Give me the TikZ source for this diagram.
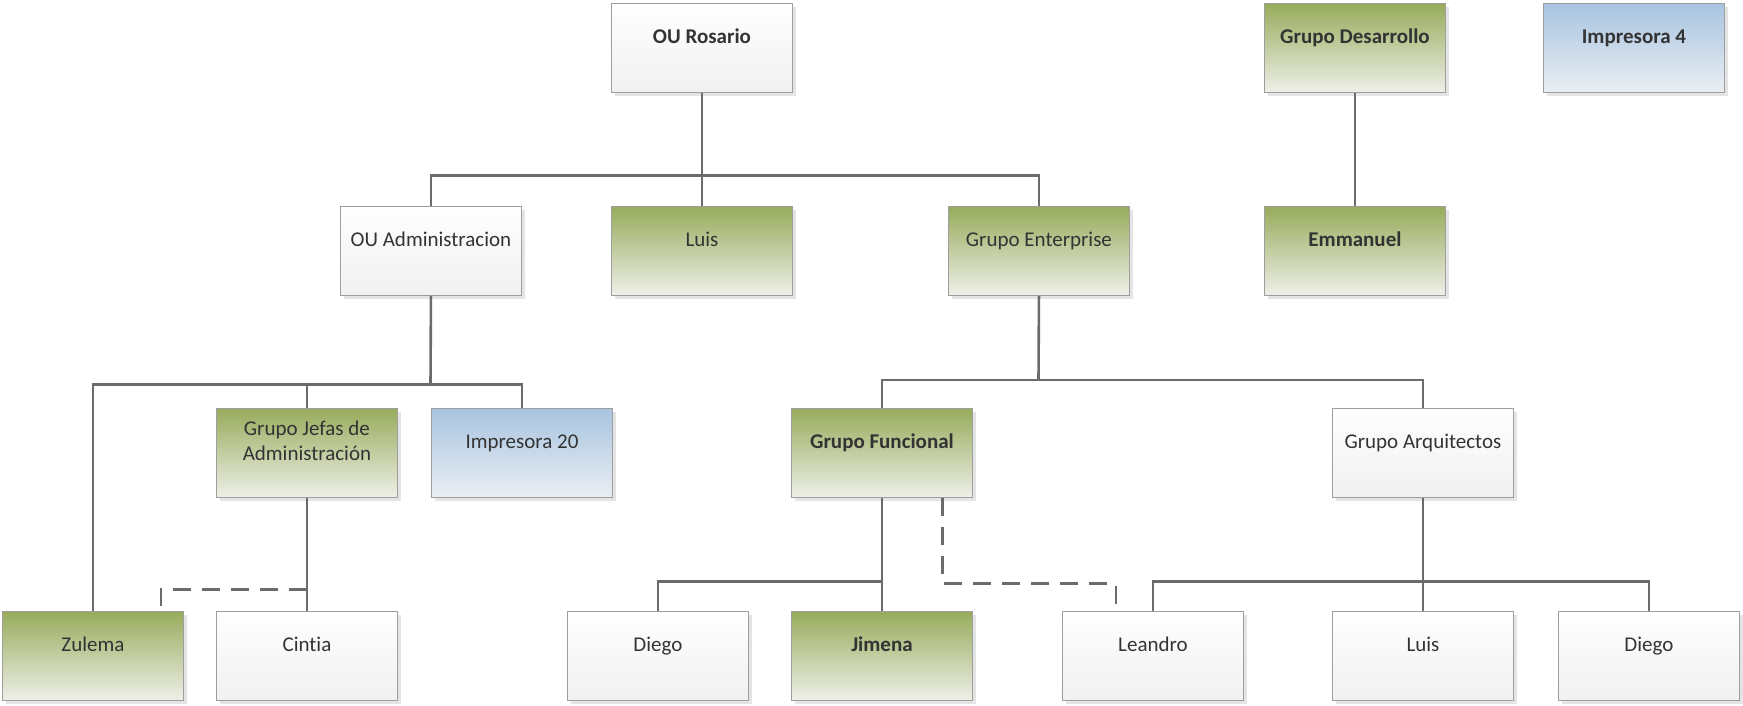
\documentclass[tikz,border=0pt]{standalone}
\usepackage{fontspec}
\setmainfont[Ligatures=NoCommon]{Carlito}
\usetikzlibrary{calc,shadows}
\definecolor{greentop}{HTML}{98AB5C}
\definecolor{greenbot}{HTML}{EEF0E8}
\definecolor{bluetop}{HTML}{A8C4E0}
\definecolor{bluebot}{HTML}{EAEEF3}
\definecolor{whitetop}{HTML}{FEFEFE}
\definecolor{whitebot}{HTML}{F1F1F1}
\definecolor{boxborder}{HTML}{9E9E9E}
\definecolor{linecol}{HTML}{6B6B6B}
\definecolor{txtcol}{HTML}{333333}
\definecolor{shadowcol}{HTML}{E4E4E4}
\tikzset{
  box/.style={rectangle, anchor=north west, inner sep=0pt, minimum width=181pt, minimum height=89pt,
    draw=boxborder, line width=0.9pt,
    drop shadow={shadow xshift=4pt, shadow yshift=-4pt, fill=shadowcol, opacity=1}},
  gbox/.style={box, top color=greentop, bottom color=greenbot},
  bbox/.style={box, top color=bluetop, bottom color=bluebot},
  wbox/.style={box, top color=whitetop, bottom color=whitebot},
  txt/.style={anchor=base, inner sep=0pt, text=txtcol, font=\fontsize{21}{25}\selectfont, align=center},
  btxt/.style={txt, font=\fontsize{21}{25}\selectfont\bfseries},
  conn/.style={draw=linecol, line width=2.6pt},
  dconn/.style={draw=linecol, line width=2.6pt, dash pattern=on 18pt off 11pt}
}
\begin{document}
\begin{tikzpicture}[x=1pt,y=-1pt]
\useasboundingbox (0,0) rectangle (1743,705);
% row 0
\node[wbox] (rosario) at (611,3) {};
\node[gbox] (desarrollo) at (1264,3) {};
\node[bbox] (imp4) at (1543,3) {};
% row 1
\node[wbox] (admin) at (340,206) {};
\node[gbox] (luis1) at (611,206) {};
\node[gbox] (enterprise) at (948,206) {};
\node[gbox] (emmanuel) at (1264,206) {};
% row 2
\node[gbox] (jefas) at (216,408) {};
\node[bbox] (imp20) at (431,408) {};
\node[gbox] (funcional) at (791,408) {};
\node[wbox] (arquitectos) at (1332,408) {};
% row 3
\node[gbox] (zulema) at (2,611) {};
\node[wbox] (cintia) at (216,611) {};
\node[wbox] (diego1) at (567,611) {};
\node[gbox] (jimena) at (791,611) {};
\node[wbox] (leandro) at (1062,611) {};
\node[wbox] (luis2) at (1332,611) {};
\node[wbox] (diego2) at (1558,611) {};

% texts
\node[btxt] (rosario-t) at ($(rosario.north)+(0,40)$) {OU Rosario};
\node[btxt] (desarrollo-t) at ($(desarrollo.north)+(0,40)$) {Grupo Desarrollo};
\node[btxt] (imp4-t) at ($(imp4.north)+(0,40)$) {Impresora 4};
\node[txt] (admin-t) at ($(admin.north)+(0,40)$) {OU Administracion};
\node[txt] (luis1-t) at ($(luis1.north)+(0,40)$) {Luis};
\node[txt] (enterprise-t) at ($(enterprise.north)+(0,40)$) {Grupo Enterprise};
\node[btxt] (emmanuel-t) at ($(emmanuel.north)+(0,40)$) {Emmanuel};
\node[txt, anchor=center] (jefas-t) at ($(jefas.north)+(0,33)$) {Grupo Jefas de\\Administración};
\node[txt] (imp20-t) at ($(imp20.north)+(0,40)$) {Impresora 20};
\node[btxt] (funcional-t) at ($(funcional.north)+(0,40)$) {Grupo Funcional};
\node[txt] (arquitectos-t) at ($(arquitectos.north)+(0,40)$) {Grupo Arquitectos};
\node[txt] (zulema-t) at ($(zulema.north)+(0,40)$) {Zulema};
\node[txt] (cintia-t) at ($(cintia.north)+(0,40)$) {Cintia};
\node[txt] (diego1-t) at ($(diego1.north)+(0,40)$) {Diego};
\node[btxt] (jimena-t) at ($(jimena.north)+(0,40)$) {Jimena};
\node[txt] (leandro-t) at ($(leandro.north)+(0,40)$) {Leandro};
\node[txt] (luis2-t) at ($(luis2.north)+(0,40)$) {Luis};
\node[txt] (diego2-t) at ($(diego2.north)+(0,40)$) {Diego};

% bus coordinates
\coordinate (bus1) at (701.5,175.6);
\coordinate (bus2) at (430.5,384.6);
\coordinate (bus3) at (1038.5,380);
\coordinate (bus4) at (881.5,581.4);
\coordinate (bus5) at (1422.5,581.4);
\coordinate (d1) at (161,589.3);
\coordinate (d2) at (942.7,583.3);
\coordinate (d3) at (1116,583.3);

% connectors
\draw[conn] (rosario.south) -- (luis1.north);
\draw[conn] (admin.north) |- (bus1) -| (enterprise.north);
\draw[conn] (desarrollo.south) -- (emmanuel.north);
\draw[conn] (admin.south) -- (bus2);
\draw[conn] (zulema.north) |- (bus2) -| (imp20.north);
\draw[conn] (bus2 -| jefas.north) -- (jefas.north);
\draw[conn] (jefas.south) -- (cintia.north);
\draw[conn] (enterprise.south) -- (bus3);
\draw[conn] (funcional.north) |- (bus3) -| (arquitectos.north);
\draw[conn] (funcional.south) -- (jimena.north);
\draw[conn] (diego1.north) |- (bus4);
\draw[conn] (arquitectos.south) -- (luis2.north);
\draw[conn] (leandro.north) |- (bus5) -| (diego2.north);
\draw[dconn] (d1 -| cintia.north) -- (d1) -- (d1 |- zulema.north);
\draw[dconn] (d2 |- funcional.south) -- (d2) -- (d3) -- (d3 |- leandro.north);
\end{tikzpicture}
\end{document}
